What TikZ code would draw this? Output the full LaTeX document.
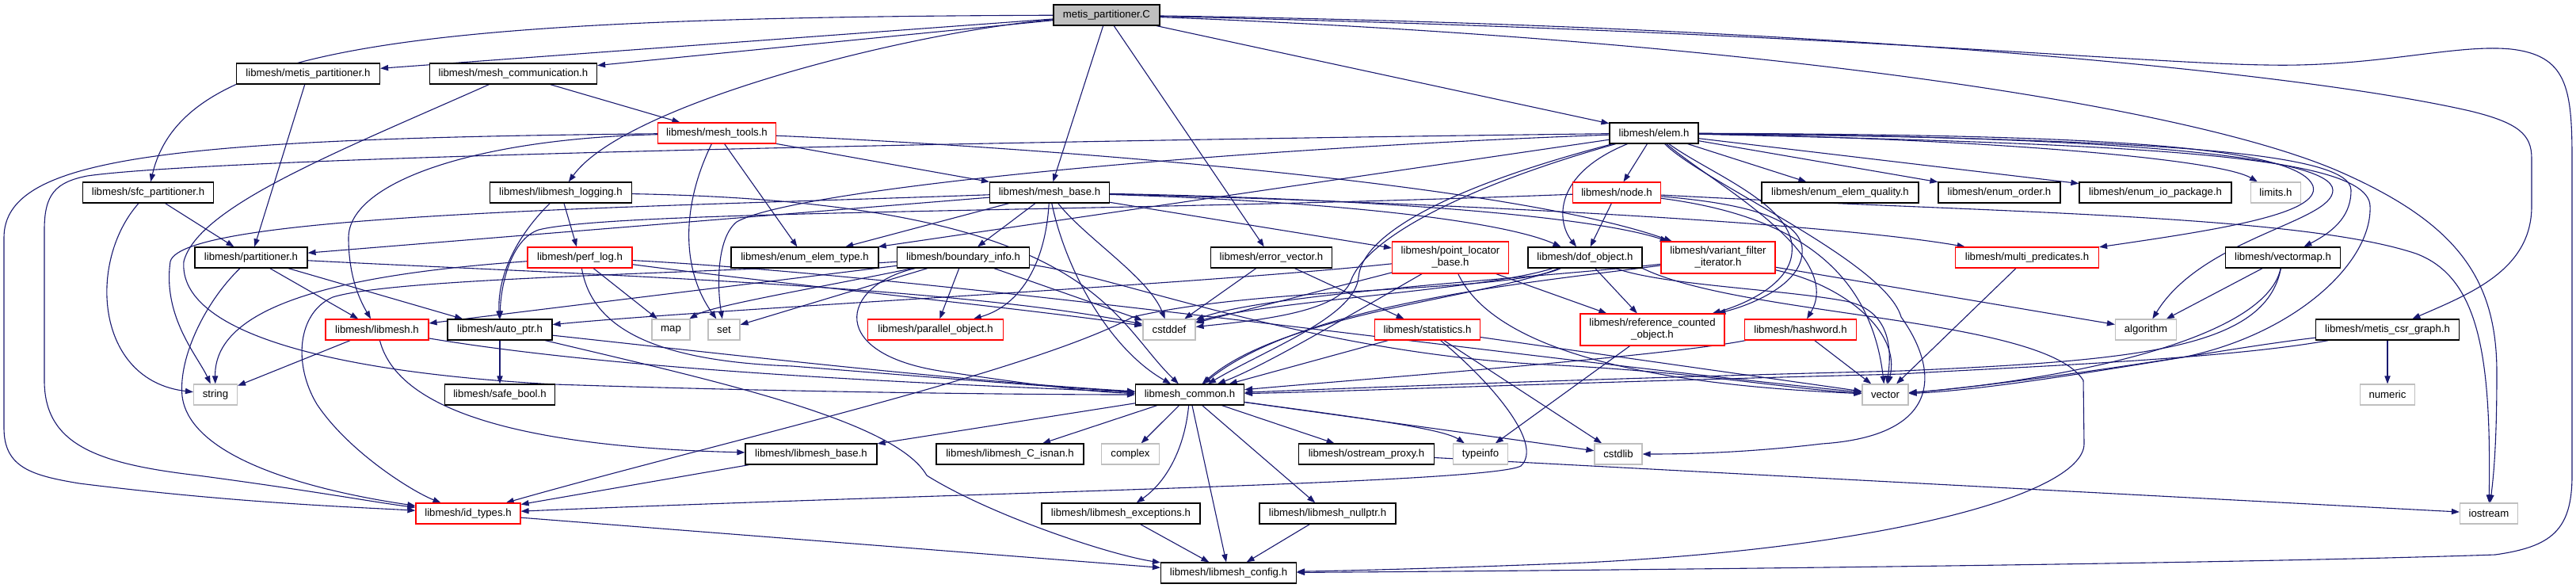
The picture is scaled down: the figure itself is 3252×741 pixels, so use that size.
\documentclass[tikz,border=0pt]{standalone}
\usepackage{fontspec}
\setmainfont{Liberation Sans}
\usetikzlibrary{arrows.meta}
\definecolor{edgec}{HTML}{191970}
\definecolor{rootgray}{HTML}{BFBFBF}
\definecolor{sysgray}{HTML}{BFBFBF}
\newcommand\nodefont{\fontsize{6.6}{7.5}\selectfont}
\pgfdeclarelayer{bg}
\pgfsetlayers{bg,main}
\tikzset{
  nb/.style={draw=black, line width=0.6pt, fill=white, minimum height=13pt, inner sep=0pt, font=\nodefont, align=center},
  nr/.style={nb, draw=red},
  ng/.style={nb, draw=sysgray},
  W/.style={minimum width=#1*0.5pt},
  H2/.style={minimum height=20pt},
  e/.style={draw=edgec, line width=0.55pt, -{Triangle[length=5pt,width=3.6pt]}},
}
\begin{document}
\begin{tikzpicture}[x=0.5pt,y=-0.5pt]
\useasboundingbox (0,0) rectangle (3252,741);
% nodes
\node[nb,fill=rootgray,W=134] (R) at (1397,19) {metis\_partitioner.C};
\node[nb,W=181] (metisP) at (389,93) {libmesh/metis\_partitioner.h};
\node[nb,W=211] (meshComm) at (648,93) {libmesh/mesh\_communication.h};
\node[nr,W=149] (meshTools) at (905,168) {libmesh/mesh\_tools.h};
\node[nb,W=112] (elem) at (2088,168) {libmesh/elem.h};
\node[nb,W=165] (sfc) at (187,243) {libmesh/sfc\_partitioner.h};
\node[nb,W=179] (logging) at (708,243) {libmesh/libmesh\_logging.h};
\node[nb,W=151] (meshBase) at (1325,243) {libmesh/mesh\_base.h};
\node[nr,W=111] (nodeh) at (2041,243) {libmesh/node.h};
\node[nb,W=198] (enumQual) at (2323,243) {libmesh/enum\_elem\_quality.h};
\node[nb,W=154] (enumOrder) at (2524,243) {libmesh/enum\_order.h};
\node[nb,W=192] (enumIO) at (2721,243) {libmesh/enum\_io\_package.h};
\node[ng,W=63] (limits) at (2873,243) {limits.h};
\node[nb,W=142] (partitioner) at (317,325) {libmesh/partitioner.h};
\node[nr,W=132] (perflog) at (732,325) {libmesh/perf\_log.h};
\node[nb,W=186] (enumType) at (1016,325) {libmesh/enum\_elem\_type.h};
\node[nb,W=167] (boundary) at (1216,325) {libmesh/boundary\_info.h};
\node[nb,W=153] (errorVec) at (1605,325) {libmesh/error\_vector.h};
\node[nr,W=147,H2] (pointLoc) at (1831,325) {libmesh/point\_locator\\\_base.h};
\node[nb,W=144] (dof) at (2001,325) {libmesh/dof\_object.h};
\node[nr,W=144,H2] (variant) at (2169,325) {libmesh/variant\_filter\\\_iterator.h};
\node[nr,W=181] (multiPred) at (2559,325) {libmesh/multi\_predicates.h};
\node[nb,W=145] (vectormap) at (2882,325) {libmesh/vectormap.h};
\node[nr,W=130] (libmesh) at (476,416) {libmesh/libmesh.h};
\node[nb,W=132] (autoptr) at (631,416) {libmesh/auto\_ptr.h};
\node[ng,W=48] (map) at (847,416) {map};
\node[ng,W=40] (set) at (914,416) {set};
\node[nr,W=171] (parallel) at (1181,416) {libmesh/parallel\_object.h};
\node[ng,W=66] (cstddef) at (1476,416) {cstddef};
\node[nr,W=133] (statistics) at (1802,416) {libmesh/statistics.h};
\node[nr,W=182,H2] (refcount) at (2086,416) {libmesh/reference\_counted\\\_object.h};
\node[nr,W=141] (hashword) at (2273,416) {libmesh/hashword.h};
\node[ng,W=77] (algorithm) at (2709,416) {algorithm};
\node[nb,W=181] (metisCSR) at (3014,416) {libmesh/metis\_csr\_graph.h};
\node[ng,W=55] (string) at (272,498) {string};
\node[nb,W=139] (safebool) at (631,498) {libmesh/safe\_bool.h};
\node[nb,W=137] (common) at (1502,498) {libmesh\_common.h};
\node[ng,W=58] (vector) at (2380,498) {vector};
\node[ng,W=69] (numeric) at (3014,498) {numeric};
\node[nb,W=166] (libmeshBase) at (1024,573) {libmesh/libmesh\_base.h};
\node[nb,W=186] (isnan) at (1275,573) {libmesh/libmesh\_C\_isnan.h};
\node[ng,W=73] (complex) at (1427,573) {complex};
\node[nb,W=171] (ostream) at (1725,573) {libmesh/ostream\_proxy.h};
\node[ng,W=69] (typeinfo) at (1869,573) {typeinfo};
\node[ng,W=60] (cstdlib) at (2043,573) {cstdlib};
\node[nr,W=132] (idtypes) at (591,648) {libmesh/id\_types.h};
\node[nb,W=200] (exceptions) at (1415,648) {libmesh/libmesh\_exceptions.h};
\node[nb,W=172] (nullptr) at (1676,648) {libmesh/libmesh\_nullptr.h};
\node[ng,W=73] (iostream) at (3142,648) {iostream};
\node[nb,W=171] (config) at (1551,723) {libmesh/libmesh\_config.h};
\begin{pgfonlayer}{bg}
% root
\draw[e] (R) .. controls (500,22) and (230,60) .. (sfc);
\draw[e] (R) -- (metisP);
\draw[e] (R) -- (meshComm);
\draw[e] (R) .. controls (1150,40) and (790,130) .. (logging);
\draw[e] (R) -- (meshBase);
\draw[e] (R) -- (errorVec);
\draw[e] (R) -- (elem);
\draw[e] (R) .. controls (2300,40) and (2700,80) .. (2862,82) .. controls (3000,85) and (3100,55) .. (3170,62) .. controls (3240,70) and (3247,110) .. (3247,200) -- (3247,600) .. controls (3247,670) and (3220,690) .. (3150,700) .. controls (2800,712) and (2000,720) .. (config);
\draw[e] (R) .. controls (2300,32) and (2900,90) .. (3118,140) .. controls (3180,155) and (3196,170) .. (3196,200) -- (3196,260) .. controls (3196,340) and (3120,370) .. (metisCSR);
\draw[e] (R) .. controls (2200,50) and (2750,130) .. (2950,215) .. controls (3100,280) and (3152,350) .. (3152,470) .. controls (3152,560) and (3148,600) .. (iostream);
% metis_partitioner.h, mesh_communication.h
\draw[e] (metisP) -- (partitioner);
\draw[e] (meshComm) -- (meshTools);
\draw[e] (meshComm) .. controls (430,190) and (250,260) .. (232,330) .. controls (225,420) and (420,470) .. (700,485) .. controls (1000,495) and (1300,498) .. (common);
% mesh_tools.h
\draw[e] (meshTools) .. controls (600,175) and (440,230) .. (440,300) .. controls (440,350) and (455,380) .. (libmesh);
\draw[e] (meshTools) -- (meshBase);
\draw[e] (meshTools) .. controls (860,260) and (860,340) .. (set);
\draw[e] (meshTools) -- (enumType);
\draw[e] (meshTools) .. controls (200,175) and (5,200) .. (5,300) -- (5,540) .. controls (5,590) and (40,600) .. (100,610) .. controls (300,635) and (450,640) .. (idtypes);
\draw[e] (meshTools) .. controls (1300,185) and (1900,230) .. (variant);
% sfc_partitioner.h
\draw[e] (sfc) -- (partitioner);
\draw[e] (sfc) .. controls (110,330) and (120,480) .. (string);
% libmesh_logging.h
\draw[e] (logging) -- (perflog);
\draw[e] (logging) .. controls (650,300) and (628,350) .. (autoptr);
\draw[e] (logging) .. controls (1380,255) and (1400,400) .. (common);
% perf_log.h
\draw[e] (perflog) .. controls (450,345) and (270,380) .. (string);
\draw[e] (perflog) -- (map);
\draw[e] (perflog) .. controls (745,400) and (800,455) .. (1000,462) .. controls (1200,478) and (1350,490) .. (common);
\draw[e] (perflog) .. controls (1000,360) and (1300,390) .. (cstddef);
\draw[e] (perflog) .. controls (1200,350) and (1900,450) .. (vector);
% partitioner.h
\draw[e] (partitioner) -- (libmesh);
\draw[e] (partitioner) -- (autoptr);
\draw[e] (partitioner) .. controls (260,380) and (225,450) .. (230,500) .. controls (240,580) and (400,620) .. (idtypes);
\draw[e] (partitioner) .. controls (700,345) and (1200,360) .. (cstddef);
% libmesh.h
\draw[e] (libmesh) -- (string);
\draw[e] (libmesh) .. controls (505,530) and (700,565) .. (libmeshBase);
\draw[e] (libmesh) .. controls (800,470) and (1200,485) .. (common);
% auto_ptr.h
\draw[e] (autoptr) -- (safebool);
\draw[e] (autoptr) .. controls (900,445) and (1200,480) .. (common);
\draw[e] (autoptr) .. controls (900,480) and (1130,530) .. (1170,600) .. controls (1250,650) and (1400,700) .. (config);
% mesh_base.h
\draw[e] (meshBase) -- (partitioner);
\draw[e] (meshBase) .. controls (800,262) and (230,270) .. (215,330) .. controls (205,400) and (250,450) .. (string);
\draw[e] (meshBase) -- (enumType);
\draw[e] (meshBase) -- (boundary);
\draw[e] (meshBase) .. controls (1320,330) and (1290,385) .. (parallel);
\draw[e] (meshBase) .. controls (1345,340) and (1400,440) .. (common);
\draw[e] (meshBase) .. controls (1370,300) and (1450,350) .. (cstddef);
\draw[e] (meshBase) -- (pointLoc);
\draw[e] (meshBase) .. controls (1700,255) and (1900,280) .. (dof);
\draw[e] (meshBase) .. controls (1700,250) and (2000,270) .. (variant);
\draw[e] (meshBase) .. controls (1800,255) and (2300,280) .. (multiPred);
% boundary_info.h
\draw[e] (boundary) -- (libmesh);
\draw[e] (boundary) .. controls (1050,360) and (900,385) .. (map);
\draw[e] (boundary) -- (set);
\draw[e] (boundary) -- (parallel);
\draw[e] (boundary) .. controls (1060,360) and (1040,450) .. (1200,470) .. controls (1300,485) and (1380,495) .. (common);
\draw[e] (boundary) -- (cstddef);
\draw[e] (boundary) .. controls (1400,345) and (1650,445) .. (1950,460) .. controls (2150,470) and (2250,490) .. (vector);
\draw[e] (boundary) .. controls (900,345) and (500,350) .. (420,375) .. controls (375,395) and (370,460) .. (400,510) .. controls (440,570) and (520,620) .. (idtypes);
% error_vector.h
\draw[e] (errorVec) -- (cstddef);
\draw[e] (errorVec) -- (statistics);
% statistics.h
\draw[e] (statistics) -- (common);
\draw[e] (statistics) -- (cstdlib);
\draw[e] (statistics) .. controls (1880,480) and (1950,560) .. (1920,588) .. controls (1880,610) and (1200,622) .. (idtypes);
\draw[e] (statistics) -- (vector);
% point_locator_base.h
\draw[e] (pointLoc) -- (refcount);
\draw[e] (pointLoc) .. controls (1500,360) and (900,390) .. (autoptr);
\draw[e] (pointLoc) -- (cstddef);
\draw[e] (pointLoc) .. controls (1700,400) and (1600,460) .. (common);
\draw[e] (pointLoc) .. controls (1900,470) and (2200,490) .. (vector);
% dof_object.h
\draw[e] (dof) -- (refcount);
\draw[e] (dof) .. controls (1880,375) and (1620,395) .. (common);
\draw[e] (dof) .. controls (1880,365) and (1600,380) .. (cstddef);
\draw[e] (dof) .. controls (1900,370) and (1600,360) .. (1430,400) .. controls (1300,470) and (900,560) .. (idtypes);
\draw[e] (dof) .. controls (2100,360) and (2250,365) .. (2330,380) .. controls (2380,390) and (2390,430) .. (vector);
\draw[e] (dof.south east) .. controls (2200,400) and (2580,400) .. (2630,480) -- (2631,560) .. controls (2631,620) and (2400,690) .. (2000,710) .. controls (1800,718) and (1700,720) .. (config);
% variant_filter_iterator.h
\draw[e] (variant) -- (algorithm);
\draw[e] (variant) .. controls (2330,360) and (2400,420) .. (vector);
\draw[e] (variant) .. controls (1950,355) and (1650,380) .. (common);
\draw[e] (variant) .. controls (1950,350) and (1600,370) .. (cstddef);
% node.h
\draw[e] (nodeh) -- (dof);
\draw[e] (nodeh) .. controls (1400,268) and (780,265) .. (680,290) .. controls (645,302) and (632,360) .. (autoptr);
\draw[e] (nodeh) .. controls (2180,255) and (2280,270) .. (2275,320) .. controls (2272,360) and (2210,385) .. (refcount);
\draw[e] (nodeh) .. controls (2250,270) and (2360,330) .. (vector);
\draw[e] (nodeh) .. controls (2500,268) and (2900,270) .. (3050,320) .. controls (3130,350) and (3145,450) .. (iostream);
% elem.h
\draw[e] (elem) -- (nodeh);
\draw[e] (elem) .. controls (1960,220) and (1965,280) .. (dof);
\draw[e] (elem) .. controls (2160,220) and (2270,260) .. (2262,320) .. controls (2258,360) and (2200,385) .. (refcount);
\draw[e] (elem) .. controls (1850,230) and (1720,290) .. (1715,350) .. controls (1710,400) and (1600,440) .. (common);
\draw[e] (elem) .. controls (1850,235) and (1725,300) .. (1705,355) .. controls (1690,395) and (1580,405) .. (cstddef);
\draw[e] (elem) -- (enumType);
\draw[e] (elem) .. controls (1500,175) and (300,195) .. (110,222) .. controls (70,230) and (56,245) .. (56,290) -- (56,480) .. controls (56,560) and (120,585) .. (250,600) .. controls (400,620) and (480,635) .. (idtypes);
\draw[e] (elem) .. controls (1500,190) and (1000,240) .. (930,280) .. controls (905,300) and (905,360) .. (set);
\draw[e] (elem) -- (enumQual);
\draw[e] (elem) -- (enumOrder);
\draw[e] (elem) -- (enumIO);
\draw[e] (elem) .. controls (2500,175) and (2800,200) .. (limits);
\draw[e] (elem) .. controls (2600,170) and (2900,180) .. (2920,235) .. controls (2930,270) and (2800,290) .. (multiPred);
\draw[e] (elem) .. controls (2650,172) and (2945,195) .. (2945,240) .. controls (2945,280) and (2780,300) .. (algorithm);
\draw[e] (elem) .. controls (2700,175) and (2968,190) .. (2968,240) .. controls (2968,270) and (2950,290) .. (vectormap);
\draw[e] (elem) .. controls (2700,182) and (2990,195) .. (2992,260) .. controls (2995,330) and (2900,420) .. (2760,450) .. controls (2600,475) and (2480,490) .. (vector);
\draw[e] (elem) .. controls (2160,230) and (2330,320) .. (hashword);
\draw[e] (elem) .. controls (2150,230) and (2380,330) .. (2400,400) .. controls (2450,470) and (2450,550) .. (2300,560) .. controls (2200,572) and (2120,573) .. (cstdlib);
% libmesh_common.h
\draw[e] (common) -- (libmeshBase);
\draw[e] (common) -- (isnan);
\draw[e] (common) -- (complex);
\draw[e] (common) .. controls (1495,570) and (1470,610) .. (exceptions);
\draw[e] (common) -- (config);
\draw[e] (common) -- (nullptr);
\draw[e] (common) -- (ostream);
\draw[e] (common) .. controls (1700,525) and (1820,540) .. (typeinfo);
\draw[e] (common) -- (cstdlib);
% others
\draw[e] (exceptions) -- (config);
\draw[e] (nullptr) -- (config);
\draw[e] (libmeshBase) -- (idtypes);
\draw[e] (idtypes) -- (config);
\draw[e] (ostream) -- (iostream);
\draw[e] (refcount) -- (typeinfo);
\draw[e] (hashword) -- (vector);
\draw[e] (hashword) .. controls (2100,450) and (1700,480) .. (common);
\draw[e] (multiPred) -- (vector);
\draw[e] (vectormap) -- (algorithm);
\draw[e] (vectormap) .. controls (2860,430) and (2600,480) .. (vector);
\draw[e] (vectormap) .. controls (2860,440) and (2700,455) .. (2400,468) .. controls (2000,478) and (1700,490) .. (common);
\draw[e] (metisCSR) -- (numeric);
\draw[e] (metisCSR) .. controls (2800,440) and (2550,490) .. (vector);
\draw[e] (metisCSR) .. controls (2800,455) and (2500,465) .. (2400,472) .. controls (2000,482) and (1700,494) .. (common);
\end{pgfonlayer}
\end{tikzpicture}
\end{document}
